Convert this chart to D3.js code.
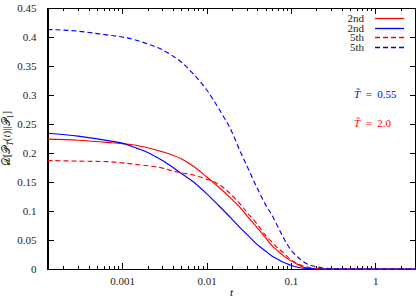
<!DOCTYPE html>
<meta charset="utf-8">
<style>

body {
  margin: 0;
  background: #fff;
}

svg {
  font: 11px "Liberation Serif", serif;
}

.axis path,
.axis line {
  fill: none;
  stroke: #000;
  shape-rendering: crispEdges;
}

.curve {
  fill: none;
  stroke-width: 1.15;
}

</style>
<body>
<script src="https://cdn.jsdelivr.net/npm/d3@7"></script>
<script>

// time points
var tVals = [1.3e-4, 3e-4, 7e-4, 0.001, 0.0015, 0.002, 0.003, 0.004, 0.005, 0.007,
             0.01, 0.014, 0.02, 0.025, 0.03, 0.04, 0.05, 0.06, 0.07, 0.08,
             0.1, 0.12, 0.15, 0.2, 0.3, 0.5, 1, 3];

var red2nd = [0.224, 0.222, 0.218, 0.216, 0.213, 0.209, 0.202, 0.196, 0.190, 0.177,
              0.159, 0.141, 0.120, 0.106, 0.092, 0.071, 0.054, 0.040, 0.031, 0.024,
              0.014, 0.008, 0.002, 0.0005, 0, 0, 0, 0];
var blue2nd = [0.234, 0.229, 0.221, 0.217, 0.208, 0.201, 0.187, 0.175, 0.165, 0.150,
               0.130, 0.109, 0.086, 0.071, 0.060, 0.042, 0.031, 0.022, 0.017, 0.012,
               0.0065, 0.003, 0.001, 0.0002, 0, 0, 0, 0];
var red5th = [0.187, 0.186, 0.185, 0.183, 0.180, 0.178, 0.174, 0.169, 0.166, 0.162,
              0.155, 0.146, 0.127, 0.112, 0.098, 0.077, 0.058, 0.046, 0.036, 0.029,
              0.016, 0.009, 0.004, 0.001, 0, 0, 0, 0];
var blue5th = [0.413, 0.410, 0.403, 0.400, 0.394, 0.388, 0.378, 0.367, 0.357, 0.336,
               0.309, 0.276, 0.236, 0.203, 0.178, 0.139, 0.111, 0.092, 0.073, 0.056,
               0.033, 0.021, 0.010, 0.004, 0.0005, 0, 0, 0];

var xTickVals = [0.001, 0.01, 0.1, 1];
var xTickLabels = ["0.001", "0.01", "0.1", "1"];
var yTickVals = [0, 0.05, 0.1, 0.15, 0.2, 0.25, 0.3, 0.35, 0.4, 0.45];
var legendLabels = ["2nd", "2nd", "5th", "5th"];

var series = [
  {values: red2nd, color: "#ff0000", dash: null},
  {values: blue2nd, color: "#0000ff", dash: null},
  {values: red5th, color: "#ff0000", dash: "5,3"},
  {values: blue5th, color: "#0000ff", dash: "5,3"}
];

var width = 416,
    height = 301;
var mLeft = 47.5, mRight = 415.5, mTop = 8, mBottom = 269;

var svg = d3.select("body").append("svg")
    .attr("width", width)
    .attr("height", height);

var x = d3.scaleLog().domain([1.3e-4, 3]).range([mLeft, mRight]);
var y = d3.scaleLinear().domain([0, 0.45]).range([mBottom, mTop]);

// minor ticks 2..9 x 10^k inside the domain
var minor = [];
[-4, -3, -2, -1, 0].forEach(function (k) {
  for (var m = 2; m <= 9; m++) {
    var v = m * Math.pow(10, k);
    if (v > 1.3e-4 && v < 3) minor.push(v);
  }
});

svg.append("g").attr("class", "axis")
    .attr("transform", "translate(0," + mBottom + ")")
    .call(d3.axisBottom(x).tickValues(minor).tickSize(-3).tickFormat(""));
svg.append("g").attr("class", "axis")
    .attr("transform", "translate(0," + mTop + ")")
    .call(d3.axisTop(x).tickValues(minor).tickSize(-3).tickFormat(""));

svg.append("g").attr("class", "axis")
    .attr("transform", "translate(0," + mBottom + ")")
    .call(d3.axisBottom(x).tickValues(xTickVals).tickSize(-6).tickPadding(8)
      .tickFormat(function (d, i) { return xTickLabels[i]; }));
svg.append("g").attr("class", "axis")
    .attr("transform", "translate(0," + mTop + ")")
    .call(d3.axisTop(x).tickValues(xTickVals).tickSize(-6).tickFormat(""));

svg.append("g").attr("class", "axis")
    .attr("transform", "translate(" + mLeft + ",0)")
    .call(d3.axisLeft(y).tickValues(yTickVals).tickSize(-6).tickPadding(11)
      .tickFormat(function (d) { return String(+d.toFixed(2)); }));
svg.append("g").attr("class", "axis")
    .attr("transform", "translate(" + mRight + ",0)")
    .call(d3.axisRight(y).tickValues(yTickVals).tickSize(-6).tickFormat(""));

svg.selectAll(".axis text")
    .style("font", "11px 'Liberation Serif', serif")
    .attr("fill", "#222");
svg.selectAll(".axis .domain").attr("stroke-width", 1.3);

var line = d3.line()
    .x(function (d) { return x(d[0]); })
    .y(function (d) { return y(d[1]); })
    .curve(d3.curveMonotoneX);

svg.selectAll("path.curve")
    .data(series)
  .enter().append("path")
    .attr("class", "curve")
    .attr("stroke", function (d) { return d.color; })
    .attr("stroke-dasharray", function (d) { return d.dash; })
    .attr("d", function (d) {
      return line(tVals.map(function (t, i) { return [t, d.values[i]]; }));
    });

// legend
var leg = svg.selectAll("g.leg")
    .data(series)
  .enter().append("g")
    .attr("class", "leg")
    .attr("transform", function (d, i) { return "translate(0," + (Math.round(18 + i * 9.6) + 0.5) + ")"; });
leg.append("text")
    .attr("x", 364)
    .attr("dy", "0.33em")
    .attr("text-anchor", "end")
    .attr("fill", "#222")
    .text(function (d, i) { return legendLabels[i]; });
leg.append("line")
    .attr("x1", 375).attr("x2", 404)
    .style("stroke", function (d) { return d.color; })
    .style("stroke-width", 1.3)
    .style("stroke-dasharray", function (d) { return d.dash || "none"; });

// temperature notes
var note = svg.append("g").style("font-size", "11px");
var n1 = note.append("text").attr("x", 354).attr("y", 98).attr("fill", "#0000ff");
n1.append("tspan").style("font-style", "italic").text("T\u0303");
n1.append("tspan").text("\u2002=\u20020.55");
var n2 = note.append("text").attr("x", 354).attr("y", 126.5).attr("fill", "#ff0000");
n2.append("tspan").style("font-style", "italic").text("T\u0303");
n2.append("tspan").text("\u2002=\u20022.0");

// axis titles
svg.append("text")
    .attr("x", (mLeft + mRight) / 2)
    .attr("y", 296)
    .attr("text-anchor", "middle")
    .style("font-style", "italic")
    .text("t");

var yt = svg.append("text")
    .attr("transform", "translate(10," + ((mTop + mBottom) / 2) + ") rotate(-90)")
    .attr("text-anchor", "middle")
    .attr("fill", "#222");
yt.append("tspan").text("\ud835\udc9f[\ud835\udcab");
yt.append("tspan").attr("dy", 3).style("font-size", "8px").style("font-style", "italic").text("T\u0303");
yt.append("tspan").attr("dy", -3).text("(");
yt.append("tspan").style("font-style", "italic").text("t");
yt.append("tspan").text(")||\ud835\udcab");
yt.append("tspan").attr("dy", 3).style("font-size", "8px").text("1");
yt.append("tspan").attr("dy", -3).text("]");

</script>
